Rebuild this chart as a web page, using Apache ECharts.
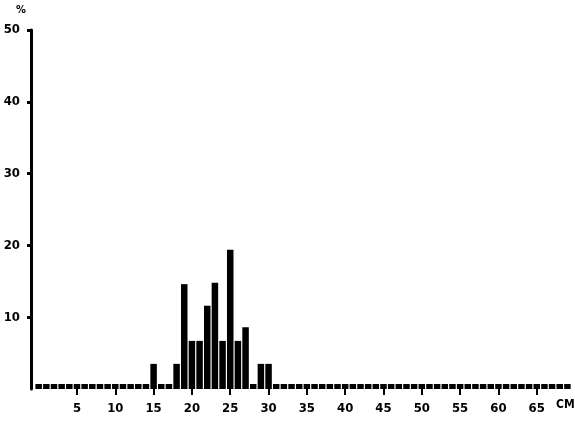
<!DOCTYPE html>
<html>
<head>
<meta charset="utf-8">
<script src="https://cdn.jsdelivr.net/npm/echarts@6/dist/echarts.min.js"></script>
<style>
html,body{margin:0;padding:0;background:#fff;}
#c{width:575px;height:423px;}
</style>
</head>
<body>
<div id="c"></div>
<script>
// Length classes (cm)
const lengths = [0,1,2,3,4,5,6,7,8,9,10,11,12,13,14,15,16,17,18,19,20,21,22,23,24,25,26,27,28,29,30,31,32,33,34,35,36,37,38,39,40,41,42,43,44,45,46,47,48,49,50,51,52,53,54,55,56,57,58,59,60,61,62,63,64,65,66,67,68,69];
// Percent of catch per length class
const percents = [0,0,0,0,0,0,0,0,0,0,0,0,0,0,0,3.5,0,0,3.5,14.6,6.7,6.7,11.6,14.8,6.7,19.4,6.7,8.6,0,3.5,3.5,0,0,0,0,0,0,0,0,0,0,0,0,0,0,0,0,0,0,0,0,0,0,0,0,0,0,0,0,0,0,0,0,0,0,0,0,0,0,0];
const xTicks = [5,10,15,20,25,30,35,40,45,50,55,60,65];
const yTicks = [10,20,30,40,50];
const xName = 'CM';
const yName = '%';

const font = '"DejaVu Sans Condensed", "DejaVu Sans", sans-serif';
const chart = echarts.init(document.getElementById('c'), null, {renderer:'canvas'});
chart.setOption({
  animation:false,
  backgroundColor:'#fff',
  grid:{left:31, right:3, top:30, bottom:34},
  xAxis:{
    type:'value', min:-1, max:69.6,
    axisLine:{show:false, onZero:false},
    splitLine:{show:false},
    axisTick:{show:true, customValues:xTicks, length:6, lineStyle:{color:'#000', width:2}},
    axisLabel:{customValues:xTicks, margin:13, color:'#000', fontFamily:font, fontWeight:'bold', fontSize:13}
  },
  yAxis:{
    type:'value', min:0, max:50, interval:10,
    axisLine:{show:true, onZero:false, lineStyle:{color:'#000', width:3}},
    splitLine:{show:false},
    axisTick:{show:true, customValues:yTicks, length:4, lineStyle:{color:'#000', width:3}},
    axisLabel:{customValues:yTicks, margin:11, color:'#000', fontFamily:font, fontWeight:'bold', fontSize:13}
  },
  graphic:[
    {type:'text', left:16, top:5, style:{text:yName, fill:'#000', font:'bold 11px ' + font}},
    {type:'text', left:556, top:399, style:{text:xName, fill:'#000', font:'bold 12px ' + font}}
  ],
  series:[{
    type:'bar',
    data: lengths.map((l,i)=>[l, percents[i]]),
    barWidth:6.5,
    barMinHeight:5,
    itemStyle:{color:'#000'}
  }]
});
</script>
</body>
</html>
